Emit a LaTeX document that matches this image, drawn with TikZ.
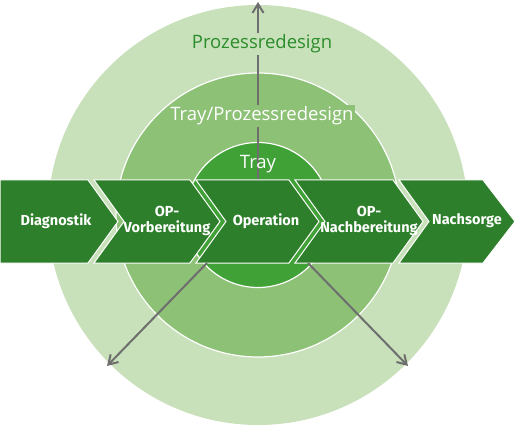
\documentclass[tikz,border=0pt]{standalone}
\usepackage{fontspec}
\setmainfont{Open Sans}
\newfontfamily\stepfont{Fira Sans}
\usetikzlibrary{arrows.meta}
\definecolor{outerc}{RGB}{200,225,186}
\definecolor{midc}{RGB}{141,193,118}
\definecolor{innc}{RGB}{63,161,54}
\definecolor{chevc}{RGB}{46,127,43}
\definecolor{txtg}{RGB}{43,140,43}
\definecolor{arrc}{RGB}{110,110,110}
\tikzset{
  chev/.style={fill=chevc, draw=white, line width=1pt, line join=miter},
  steplabel/.style={text=white, font=\stepfont\fontsize{14.5}{16}\selectfont\bfseries, align=center, inner sep=0pt},
  ringlabel/.style={font=\fontsize{18.5}{20}\selectfont, inner sep=1.5pt},
  garrow/.style={draw=arrc, line width=2pt, -{Straight Barb[length=9pt,width=11pt]}}
}
\begin{document}
\begin{tikzpicture}[x=1pt,y=-1pt]
\useasboundingbox (0,0) rectangle (516,430);
\coordinate (c) at (258,215);
\fill[outerc] (c) circle (210pt);
\draw[white, line width=1.2pt, fill=midc] (c) circle (142pt);
\draw[white, line width=1.2pt, fill=innc] (c) circle (72.5pt);
% top arrow
\coordinate (t0) at (258,180);
\coordinate (t1) at (258,2);
\draw[garrow] (t0) -- (t1);
\node[ringlabel, text=txtg, fill=outerc] (l1) at (262,44) {Prozessredesign};
\node[ringlabel, text=white, fill=midc] (l2) at (262,116) {Tray/Prozessredesign};
\node[ringlabel, text=white] (l3) at (258,164) {Tray};
% chevrons
\path[chev] (0,180) -- (88,180) -- (118,221.5) -- (88,263) -- (0,263) -- cycle;
\path[chev] (94,180) -- (190,180) -- (220,221.5) -- (190,263) -- (94,263) -- (124,221.5) -- cycle;
\path[chev] (196,180) -- (289,180) -- (319,221.5) -- (289,263) -- (196,263) -- (226,221.5) -- cycle;
\path[chev] (295,180) -- (393,180) -- (423,221.5) -- (393,263) -- (295,263) -- (325,221.5) -- cycle;
\path[chev] (399,180) -- (483,180) -- (515,221.5) -- (483,263) -- (399,263) -- (429,221.5) -- cycle;
\node[steplabel] (s1) at (56,221) {Diagnostik};
\node[steplabel] (s2) at (167,221) {OP-\\Vorbereitung};
\node[steplabel] (s3) at (266,221) {Operation};
\node[steplabel] (s4) at (369,221) {OP-\\Nachbereitung};
\node[steplabel] (s5) at (467,221) {Nachsorge};
% diagonal arrows
\coordinate (a0) at (207,263);
\coordinate (a1) at (107,366);
\coordinate (b0) at (308,263);
\coordinate (b1) at (408,366);
\draw[garrow] (a0) -- (a1);
\draw[garrow] (b0) -- (b1);
\end{tikzpicture}
\end{document}
